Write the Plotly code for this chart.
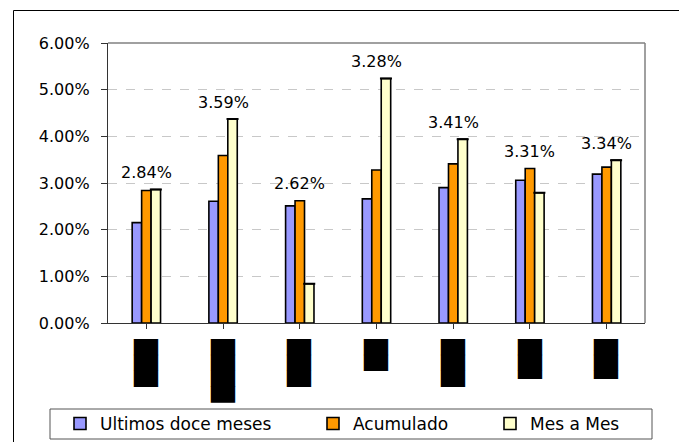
import plotly.graph_objects as go

# ---- data ----
group_index = [0, 1, 2, 3, 4, 5, 6]
tick_labels = ["███", "████", "███", "██", "███", "▐██", "▐██"]  # redacted labels
ultimos_doce = [0.0215, 0.0261, 0.0251, 0.0266, 0.0290, 0.0306, 0.0319]
acumulado = [0.0284, 0.0359, 0.0262, 0.0328, 0.0341, 0.0331, 0.0334]
mes_a_mes = [0.0286, 0.0437, 0.0084, 0.0524, 0.0394, 0.0279, 0.0349]
series_names = ["Ultimos doce meses", "Acumulado", "Mes a Mes"]
y_ticks = [0.0, 0.01, 0.02, 0.03, 0.04, 0.05, 0.06]

FONT = "DejaVu Sans"
colors = ["#9999FF", "#FF9900", "#FFFFCC"]
W, H = 679, 442
L, R, T, B = 108, 34, 43, 119
pw, ph = W - L - R, H - T - B


def px_x(px):
    return (px - L) / pw


def px_y(py):
    return (H - B - py) / ph


fig = go.Figure()
legend_ids = ["legend", "legend2", "legend3"]
for i, (name, vals) in enumerate(zip(series_names, [ultimos_doce, acumulado, mes_a_mes])):
    bar = go.Bar(
        x=group_index, y=vals, name=name, showlegend=True,
        marker=dict(color=colors[i], line=dict(color="black", width=1.6)),
        legend=legend_ids[i],
    )
    if i == 2:
        bar.error_y = dict(type="data", array=[0] * len(vals), visible=True,
                           width=6, thickness=2, color="black")
    fig.add_trace(bar)

# value labels above each group (Acumulado values)
for gi, a, u, m in zip(group_index, acumulado, ultimos_doce, mes_a_mes):
    fig.add_annotation(x=gi, y=max(a, u, m), text=f"{a*100:.2f}%", showarrow=False,
                       yanchor="middle", yshift=17,
                       font=dict(family=FONT, size=16, color="black"))

shapes = [
    # plot area top/right border
    dict(type="line", xref="paper", yref="paper", x0=0, x1=1, y0=1, y1=1,
         line=dict(color="#808080", width=1.5)),
    dict(type="line", xref="paper", yref="paper", x0=1, x1=1, y0=0, y1=1,
         line=dict(color="#808080", width=1.5)),
    # outer chart border
    dict(type="rect", xref="paper", yref="paper", x0=px_x(13.5), x1=px_x(700),
         y0=px_y(460), y1=px_y(10.5), line=dict(color="black", width=1)),
    # legend box
    dict(type="rect", xref="paper", yref="paper", x0=px_x(50), x1=px_x(652),
         y0=px_y(439), y1=px_y(409), line=dict(color="#555555", width=1)),
]

leg_common = dict(orientation="h", xanchor="left", yanchor="middle",
                  xref="container", yref="container",
                  bgcolor="rgba(0,0,0,0)", borderwidth=0,
                  font=dict(family=FONT, size=17, color="black"))
leg_y = 1 - 424 / H

fig.update_layout(
    width=W, height=H, showlegend=True,
    margin=dict(l=L, r=R, t=T, b=B, pad=0, autoexpand=False),
    paper_bgcolor="white", plot_bgcolor="white",
    barmode="group", bargap=0.63, bargroupgap=0,
    font=dict(family=FONT, size=16, color="black"),
    shapes=shapes,
    legend=dict(x=60 / W, y=leg_y, **leg_common),
    legend2=dict(x=313 / W, y=leg_y, **leg_common),
    legend3=dict(x=490 / W, y=leg_y, **leg_common),
    xaxis=dict(
        range=[-0.5, 6.5], tickmode="array", tickvals=group_index, ticktext=tick_labels,
        tickangle=-90, tickfont=dict(family=FONT, size=20.5, color="black"),
        showline=True, linecolor="#333333", linewidth=1.3,
        ticks="outside", tickson="boundaries", ticklen=5, tickcolor="#333333",
        ticklabelstandoff=2, showgrid=False, zeroline=False,
    ),
    yaxis=dict(
        range=[0, 0.06], tickmode="array", tickvals=y_ticks, tickformat=".2%",
        showline=True, linecolor="#333333", linewidth=1.3,
        ticks="outside", ticklen=6, tickcolor="#333333",
        ticklabelstandoff=8,
        showgrid=True, gridcolor="#C8C8C8", griddash="dash", gridwidth=1,
        zeroline=False, tickfont=dict(family=FONT, size=16, color="black"),
    ),
)

fig.write_html("out.html", config={"displayModeBar": False},
               post_script="document.body.style.margin='0';")
